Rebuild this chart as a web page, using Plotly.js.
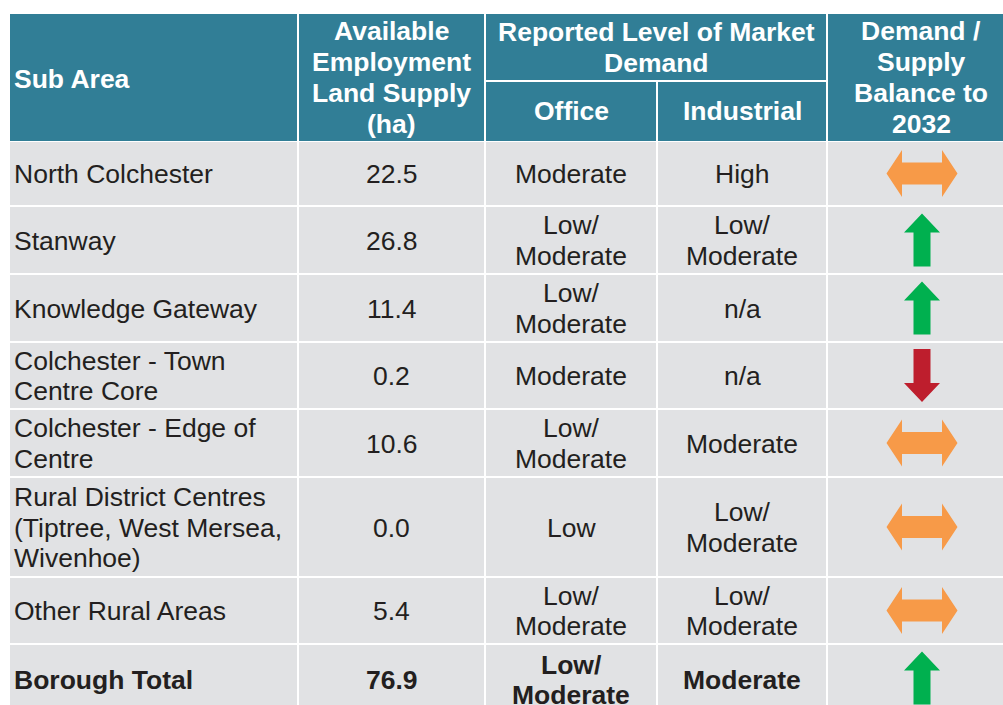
<!DOCTYPE html>
<html>
<head>
<meta charset="utf-8">
<script src="https://cdn.plot.ly/plotly-3.0.1.min.js"></script>
<style>
html,body{margin:0;padding:0;background:#ffffff;}
#chart{width:1003px;height:705px;}
</style>
</head>
<body>
<div id="chart"></div>
<script>
// ---- data ----
var subAreas = ["North Colchester", "Stanway", "Knowledge Gateway", "Colchester - Town\nCentre Core",
  "Colchester - Edge of\nCentre", "Rural District Centres\n(Tiptree, West Mersea,\nWivenhoe)",
  "Other Rural Areas", "Borough Total"];
var landSupply = [22.5, 26.8, 11.4, 0.2, 10.6, 0.0, 5.4, 76.9];
var officeDemand = ["Moderate", "Low/\nModerate", "Low/\nModerate", "Moderate", "Low/\nModerate", "Low",
  "Low/\nModerate", "Low/\nModerate"];
var industrialDemand = ["High", "Low/\nModerate", "n/a", "n/a", "Moderate", "Low/\nModerate",
  "Low/\nModerate", "Moderate"];
var balance = ["both", "up", "up", "down", "both", "both", "both", "up"];
var headers = {
  subArea: "Sub Area",
  supply: "Available\nEmployment\nLand Supply\n(ha)",
  demand: "Reported Level of Market\nDemand",
  office: "Office",
  industrial: "Industrial",
  balance: "Demand /\nSupply\nBalance to\n2032"
};

// ---- layout geometry (pixels) ----
var colL = [10, 299, 486, 658, 828];
var colR = [297, 484, 656, 826, 1020];
var rowT = [142, 207, 275, 343, 410, 478, 578, 645];
var rowB = [205, 273, 341, 408, 476, 576, 643, 715];
var headT = 14, headB = 141, headSplit = 81;
var TEAL = "#317E96", GREY = "#E1E2E4", TXT = "#231F20";
var FONT = "Liberation Sans, Arial, Helvetica, sans-serif";
var FS = 26.5, LS = 30.5, HLS = 31;
var LEFTX = 11.5;
var arrowColors = {both: "#F79A48", up: "#00B04F", down: "#BE1E2D"};

var shapes = [], annotations = [], traces = [];

function rect(x0, y0, x1, y1, color) {
  shapes.push({type: "rect", xref: "x", yref: "y", x0: x0, x1: x1, y0: y0, y1: y1,
    fillcolor: color, line: {width: 0}, layer: "below"});
}
function text(str, x, yc, align, color, bold, spacing) {
  var lines = String(str).split("\n");
  var n = lines.length;
  for (var i = 0; i < n; i++) {
    var y = yc + (i - (n - 1) / 2) * spacing;
    annotations.push({xref: "x", yref: "y", x: x, y: y, xanchor: align, yanchor: "middle",
      showarrow: false, text: bold ? "<b>" + lines[i] + "</b>" : lines[i],
      font: {family: FONT, size: FS, color: color}});
  }
}

// header cells
rect(colL[0], headT, colR[0], headB, TEAL);
rect(colL[1], headT, colR[1], headB, TEAL);
rect(colL[2], headT, colR[3], headSplit - 1, TEAL);
rect(colL[2], headSplit + 1, colR[2], headB, TEAL);
rect(colL[3], headSplit + 1, colR[3], headB, TEAL);
rect(colL[4], headT, colR[4], headB, TEAL);

text(headers.subArea, LEFTX, (headT + headB) / 2 + 1, "left", "#ffffff", true, HLS);
text(headers.supply, (colL[1] + colR[1]) / 2, (headT + headB) / 2, "center", "#ffffff", true, HLS);
text(headers.demand, (colL[2] + colR[3]) / 2, (headT + headSplit) / 2, "center", "#ffffff", true, HLS);
text(headers.office, (colL[2] + colR[2]) / 2, (headSplit + headB) / 2, "center", "#ffffff", true, HLS);
text(headers.industrial, (colL[3] + colR[3]) / 2, (headSplit + headB) / 2, "center", "#ffffff", true, HLS);
text(headers.balance, 921, (headT + headB) / 2, "center", "#ffffff", true, HLS);

// body cells
for (var r = 0; r < subAreas.length; r++) {
  for (var c = 0; c < 5; c++) rect(colL[c], rowT[r], colR[c], rowB[r], GREY);
  var yc = (r === subAreas.length - 1) ? 680 : (rowT[r] + rowB[r]) / 2 + 0.5;
  var bold = (r === subAreas.length - 1);
  text(subAreas[r], LEFTX, yc, "left", TXT, bold, LS);
  text(landSupply[r].toFixed(1), (colL[1] + colR[1]) / 2, yc, "center", TXT, bold, LS);
  text(officeDemand[r], (colL[2] + colR[2]) / 2, yc, "center", TXT, bold, LS);
  text(industrialDemand[r], (colL[3] + colR[3]) / 2, yc, "center", TXT, bold, LS);

  // arrow glyph
  var cx = 922, cy = (r === subAreas.length - 1) ? 678 : (rowT[r] + rowB[r]) / 2;
  var kind = balance[r], xs, ys;
  if (kind === "both") {
    var hw = 35.5, hl = 15.5, hh = 23.5, sh = 11;
    xs = [cx - hw, cx - hw + hl, cx - hw + hl, cx + hw - hl, cx + hw - hl, cx + hw, cx + hw - hl, cx + hw - hl, cx - hw + hl, cx - hw + hl, cx - hw];
    ys = [cy, cy - hh, cy - sh, cy - sh, cy - hh, cy, cy + hh, cy + sh, cy + sh, cy + hh, cy];
  } else {
    var s = (kind === "up") ? 1 : -1;
    var H = 26.5, hd = 19, hwid = 18, sw = 8.5;
    xs = [cx, cx + hwid, cx + sw, cx + sw, cx - sw, cx - sw, cx - hwid, cx];
    ys = [cy - s * H, cy - s * (H - hd), cy - s * (H - hd), cy + s * H, cy + s * H, cy - s * (H - hd), cy - s * (H - hd), cy - s * H];
  }
  traces.push({type: "scatter", mode: "lines", x: xs, y: ys, fill: "toself",
    fillcolor: arrowColors[kind], line: {width: 0, color: arrowColors[kind]},
    hoverinfo: "skip", showlegend: false});
}

var layout = {
  width: 1003, height: 705,
  margin: {l: 0, r: 0, t: 0, b: 0},
  paper_bgcolor: "#ffffff", plot_bgcolor: "#ffffff",
  xaxis: {range: [0, 1003], visible: false, fixedrange: true},
  yaxis: {range: [705, 0], visible: false, fixedrange: true},
  shapes: shapes, annotations: annotations, showlegend: false
};
Plotly.newPlot("chart", traces, layout, {displayModeBar: false, staticPlot: true});
</script>
</body>
</html>
